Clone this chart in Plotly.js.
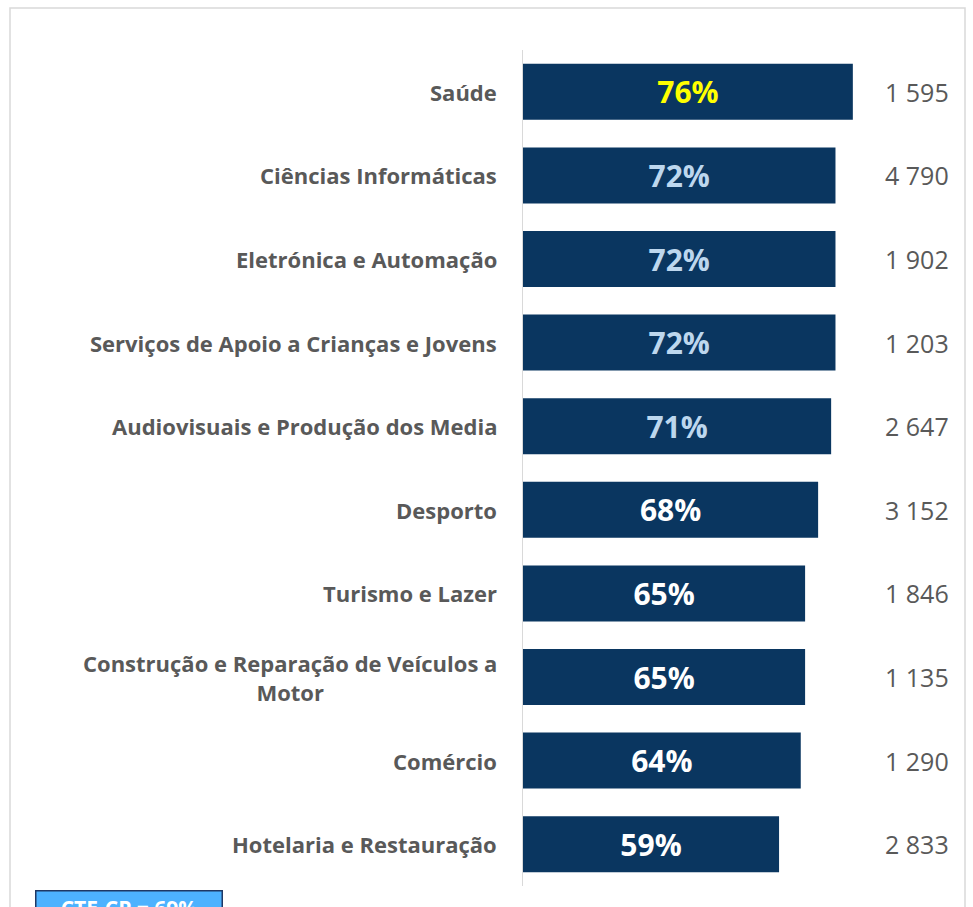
<!DOCTYPE html>
<html>
<head>
<meta charset="utf-8">
<script src="https://cdn.plot.ly/plotly-3.0.1.min.js"></script>
<style>html,body{margin:0;padding:0;background:#fff;}#chart{width:973px;height:907px;}</style>
</head>
<body>
<div id="chart"></div>
<script>
const categories = [
  "Saúde",
  "Ciências Informáticas",
  "Eletrónica e Automação",
  "Serviços de Apoio a Crianças e Jovens",
  "Audiovisuais e Produção dos Media",
  "Desporto",
  "Turismo e Lazer",
  "Construção e Reparação de Veículos a<br>Motor",
  "Comércio",
  "Hotelaria e Restauração"
];
const percentages = [76, 72, 72, 72, 71, 68, 65, 65, 64, 59];
const counts = [1595, 4790, 1902, 1203, 2647, 3152, 1846, 1135, 1290, 2833];
const referenceLabel = "CTE-CP = 69%";

const labelColors = ["#FFFF00", "#BDD7EE", "#BDD7EE", "#BDD7EE", "#BDD7EE",
  "#FFFFFF", "#FFFFFF", "#FFFFFF", "#FFFFFF", "#FFFFFF"];

const fmt = n => String(n).replace(/\B(?=(\d{3})+(?!\d))/g, " ");
const FONT = "'Open Sans', sans-serif";

const annotations = [];
categories.forEach((c, i) => {
  annotations.push({
    xref: "paper", yref: "y", x: -0.055, y: c, xanchor: "right", yanchor: "middle",
    text: "<b>" + c + "</b>", showarrow: false, align: "center",
    font: {family: FONT, size: 22, color: "#595959"}
  });
  annotations.push({
    xref: "paper", yref: "y", x: 0.986, y: c, xanchor: "right", yanchor: "middle",
    text: fmt(counts[i]), showarrow: false,
    font: {family: FONT, size: 25, color: "#595959"}
  });
});
annotations.push({
  xref: "paper", yref: "paper", x: -0.908, y: -0.0048, xanchor: "center", yanchor: "top",
  text: "<b>" + referenceLabel + "</b>", showarrow: false,
  bgcolor: "#4DB2FF", bordercolor: "#1F3864", borderwidth: 1.5, width: 183, height: 30,
  font: {family: FONT, size: 21, color: "#FFFFFF"}
});

const trace = {
  type: "bar", orientation: "h",
  y: categories, x: percentages,
  marker: {color: "#0A3660"},
  width: 0.67,
  text: percentages.map(v => "<b>" + v + "%</b>"),
  textposition: "inside", insidetextanchor: "middle",
  textfont: {family: FONT, size: 30, color: labelColors},
  constraintext: "none",
  hoverinfo: "none", cliponaxis: false
};

const layout = {
  width: 973, height: 907,
  margin: {l: 523, r: 16, t: 50, b: 21},
  paper_bgcolor: "#FFFFFF", plot_bgcolor: "#FFFFFF",
  showlegend: false,
  xaxis: {range: [0, 100], visible: false, fixedrange: true},
  yaxis: {type: "category", autorange: "reversed", showticklabels: false,
    showline: true, linecolor: "#D9D9D9", linewidth: 1.5, showgrid: false, zeroline: false, ticks: ""},
  annotations: annotations,
  shapes: [{
    type: "rect", xref: "paper", yref: "paper",
    x0: (10 - 523) / 434, x1: (965 - 523) / 434, y0: -0.2, y1: 878 / 836,
    line: {color: "#D9D9D9", width: 1.5}, fillcolor: "rgba(0,0,0,0)", layer: "below"
  }]
};

Plotly.newPlot("chart", [trace], layout, {displayModeBar: false, staticPlot: true});
</script>
</body>
</html>
